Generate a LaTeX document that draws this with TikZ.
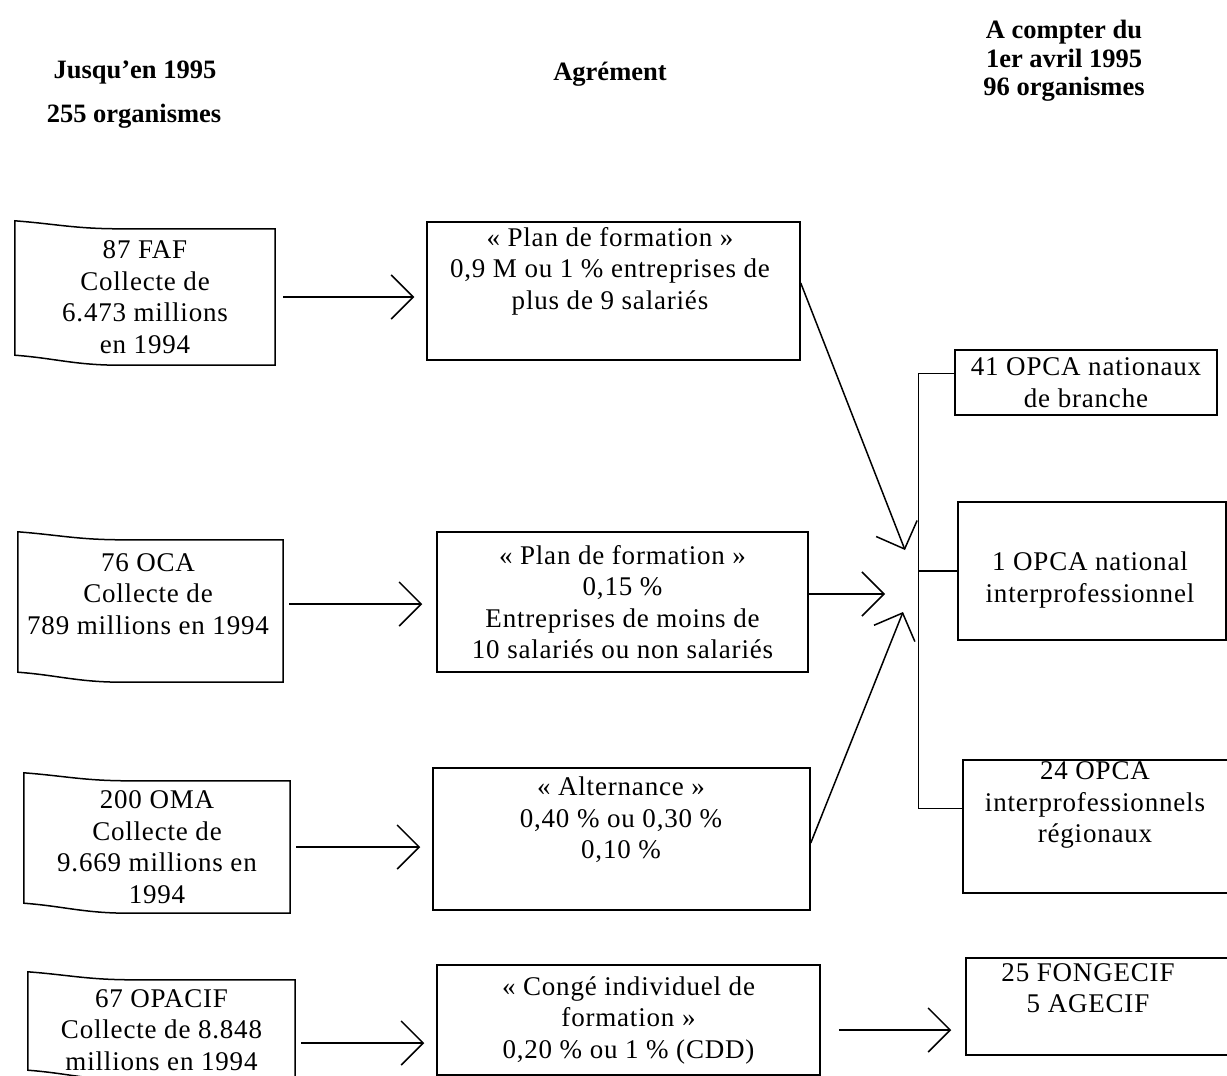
\documentclass[tikz,border=0pt]{standalone}
\usepackage{fontspec}
\setmainfont[LetterSpace=3]{Liberation Serif}
\newfontfamily\headfont[Ligatures=TeX]{Liberation Serif}
\usetikzlibrary{positioning,arrows.meta}

\tikzset{
  every node/.append style={font=\fontsize{27}{31.5}\selectfont},
  head/.style={font=\headfont\fontsize{26.5}{28.5}\selectfont\bfseries, align=center},
  box/.style={draw, line width=1.5pt, align=center, inner sep=0pt},
  src/.style={align=center, inner sep=0pt},
  txt/.style={align=center, inner sep=0pt},
  flow/.style={line width=1.5pt, -{Straight Barb[length=22pt,width=44pt]}},
  link/.style={line width=1.5pt}
}

% outline of the old bodies, top and bottom edges bent on the left
\newcommand{\tornbox}[1]{%
  \draw[line width=1.5pt] ([yshift=8pt]#1.north west)
    .. controls +(40pt,-3pt) and +(-45pt,0pt) .. ([xshift=105pt]#1.north west)
    -- (#1.north east) -- (#1.south east)
    -- ([xshift=105pt]#1.south west)
    .. controls +(-45pt,0pt) and +(40pt,-3pt) .. ([yshift=10pt]#1.south west) -- cycle;}

\begin{document}
\begin{tikzpicture}[x=1pt, y=-1pt]
  \useasboundingbox (0,0) rectangle (1227,1076);

  % Define nodes
  \node[head] (hdold)  at (135,73)  {Jusqu’en 1995};
  \node[head] (hdnum)  at (134,116) {255 organismes};
  \node[head] (hdagr)  at (610,74)  {Agrément};
  \node[head] (hdnew)  at (1064,61) {A compter du\\1er avril 1995\\96 organismes};

  \node[src, minimum width=260pt, minimum height=136pt] (faf) at (145,297)
    {87 FAF\\Collecte de\\6.473 millions\\en 1994};
  \node[src, minimum width=265pt, minimum height=142pt] (oca) at (150.5,611) {};
  \node[txt] (ocat) at (148,594) {76 OCA\\Collecte de\\789 millions en 1994};
  \node[src, minimum width=266pt, minimum height=132pt] (oma) at (157,847)
    {200 OMA\\Collecte de\\9.669 millions en\\1994};
  \node[src, minimum width=267pt, minimum height=100pt] (opacif) at (161.5,1030)
    {67 OPACIF\\Collecte de 8.848\\millions en 1994};

  \node[box, minimum width=373pt, minimum height=138pt] (plan) at (613.5,291) {};
  \node[txt] (plant) at (610,271)
    {« Plan de formation »\\0,9 M ou 1 \% entreprises de\\plus de 9 salariés};
  \node[box, minimum width=371pt, minimum height=140pt] (plansm) at (622.5,602)
    {« Plan de formation »\\0,15 \%\\Entreprises de moins de\\10 salariés ou non salariés};
  \node[box, minimum width=377pt, minimum height=142pt] (alt) at (621.5,839) {};
  \node[txt] (altt) at (621,820) {« Alternance »\\0,40 \% ou 0,30 \%\\0,10 \%};
  \node[box, minimum width=383pt, minimum height=110pt] (cif) at (628.5,1020)
    {« Congé individuel de\\formation »\\0,20 \% ou 1 \% (CDD)};

  \node[box, minimum width=262pt, minimum height=65pt] (branche) at (1086,382.5)
    {41 OPCA nationaux\\de branche};
  \node[box, minimum width=268pt, minimum height=138pt] (natint) at (1092,571) {};
  \node[txt] (natintt) at (1090,580) {1 OPCA national\\interprofessionnel};
  \node[box, minimum width=272pt, minimum height=133pt] (regint) at (1099,826.5) {};
  \node[txt] (regintt) at (1095,805) {24 OPCA\\interprofessionnels\\régionaux};
  \node[box, minimum width=269pt, minimum height=97pt] (gecif) at (1100.5,1006.5) {};
  \node[txt] (gecift) at (1088,988) {25 FONGECIF\\5 AGECIF};

  \coordinate (m1) at (905,550);
  \coordinate (m2) at (885,594);
  \coordinate (m3) at (903,612);

  \tornbox{faf}
  \tornbox{oca}
  \tornbox{oma}
  \tornbox{opacif}

  % Connect the nodes
  \draw[flow, shorten <=8pt, shorten >=12pt] (faf.east) -- (faf.east -| plan.west);
  \draw[flow, shorten <=6pt, shorten >=14pt] ([yshift=7pt]oca.east) -- ([yshift=7pt]oca.east -| plansm.west);
  \draw[flow, shorten <=6pt, shorten >=12pt] (oma.east) -- (oma.east -| alt.west);
  \draw[flow, shorten <=6pt, shorten >=12pt] ([yshift=-13pt]opacif.east) -- ([yshift=-13pt]opacif.east -| cif.west);

  \draw[flow] ([yshift=8pt]plan.east) -- (m1);
  \draw[flow] ([yshift=8pt]plansm.east) -- (m2);
  \draw[flow] ([yshift=-4pt]alt.east) -- (m3);
  \draw[flow, shorten <=18pt, shorten >=14pt] ([yshift=-10pt]cif.east) -- ([yshift=-10pt]cif.east -| gecif.west);

  \draw[link] ([yshift=9pt]branche.west) -- ++(-36pt,0) |- ([yshift=18pt]regint.west);
  \draw[link] (natint.west) -- ++(-38pt,0);

\end{tikzpicture}
\end{document}
